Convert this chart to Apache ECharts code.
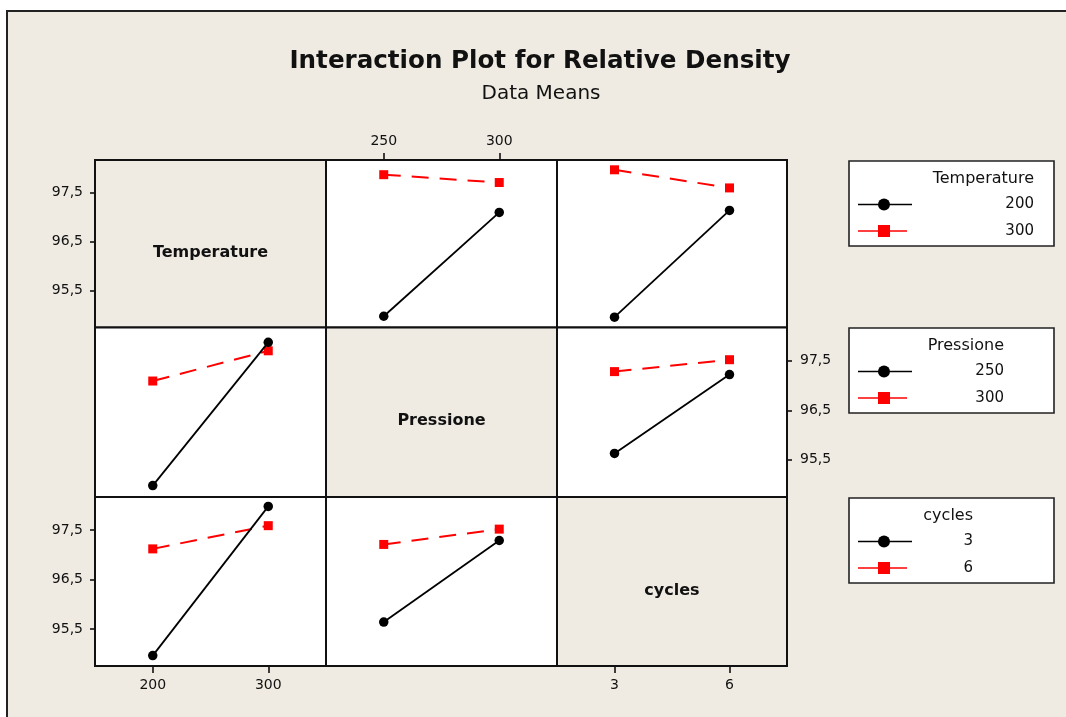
<!DOCTYPE html>
<html>
<head>
<meta charset="utf-8">
<script src="https://cdn.jsdelivr.net/npm/echarts@6/dist/echarts.min.js"></script>
<style>html,body{margin:0;padding:0;background:#fff}#c{width:1066px;height:717px}</style>
</head>
<body>
<div id="c"></div>
<script>
// ---- data ----
const factorNames = ['Temperature', 'Pressione', 'cycles'];
const tempLevels = [200, 300];
const pressLevels = [250, 300];
const cycleLevels = [3, 6];
const yTicks = [95.5, 96.5, 97.5];
// Temperature trace vs Pressione (x = 250, 300)
const tpT200 = [94.98, 97.10];
const tpT300 = [97.87, 97.71];
// Temperature trace vs cycles (x = 3, 6)
const tcT200 = [94.96, 97.14];
const tcT300 = [97.97, 97.60];
// Pressione trace vs Temperature (x = 200, 300)
const ptP250 = [94.98, 97.87];
const ptP300 = [97.09, 97.70];
// Pressione trace vs cycles (x = 3, 6)
const pcP250 = [95.63, 97.22];
const pcP300 = [97.28, 97.52];
// cycles trace vs Temperature (x = 200, 300)
const ctC3 = [94.96, 97.98];
const ctC6 = [97.12, 97.59];
// cycles trace vs Pressione (x = 250, 300)
const cpC3 = [95.64, 97.29];
const cpC6 = [97.21, 97.52];

// ---- layout ----
const BEIGE = '#EFEBE2';
const FONT = 'DejaVu Sans';
const colLeft = [95, 326, 557], colW = [231, 231, 230];
const rowTop = [160, 327.5, 497], rowH = [167.5, 169.5, 169];
const xRange = [[150, 350], [225, 325], [1.5, 7.5]];
const xLevels = [tempLevels, pressLevels, cycleLevels];
const yMin = 94.75, yMax = 98.17;
const fmt = v => Number(v).toFixed(1).replace('.', ',');

const grid = [], xAxis = [], yAxis = [], series = [];
for (let r = 0; r < 3; r++) {
  for (let c = 0; c < 3; c++) {
    const gi = r * 3 + c;
    grid.push({left: colLeft[c], top: rowTop[r], width: colW[c], height: rowH[r], show: true,
      backgroundColor: r === c ? BEIGE : '#ffffff', borderColor: '#111', borderWidth: 2});
    const showX = (r === 0 && c === 1) || (r === 2 && c === 0) || (r === 2 && c === 2);
    const showY = (c === 0 && (r === 0 || r === 2)) || (r === 1 && c === 2);
    xAxis.push({type: 'value', gridIndex: gi, min: xRange[c][0], max: xRange[c][1],
      position: r === 0 ? 'top' : 'bottom',
      axisLine: {show: false}, splitLine: {show: false},
      axisTick: {show: showX, length: 7, customValues: xLevels[c], lineStyle: {color: '#111', width: 1.6}},
      axisLabel: {show: showX, customValues: xLevels[c], margin: 12, color: '#111', fontSize: 14, fontFamily: FONT}});
    yAxis.push({type: 'value', gridIndex: gi, min: yMin, max: yMax,
      position: c === 2 ? 'right' : 'left',
      axisLine: {show: false}, splitLine: {show: false},
      axisTick: {show: showY, length: 5, customValues: yTicks, lineStyle: {color: '#111', width: 1.6}},
      axisLabel: {show: showY, customValues: yTicks, formatter: fmt, margin: c === 2 ? 13 : 12, color: '#111', fontSize: 14, fontFamily: FONT}});
  }
}

function addPair(r, c, blackVals, redVals, names) {
  const gi = r * 3 + c;
  const xs = xLevels[c];
  series.push({type: 'line', name: names[1], xAxisIndex: gi, yAxisIndex: gi,
    data: xs.map((x, i) => [x, redVals[i]]), symbol: 'rect', symbolSize: 9,
    itemStyle: {color: '#ff0000'}, lineStyle: {color: '#ff0000', width: 2, type: [17, 11]}, z: 2});
  series.push({type: 'line', name: names[0], xAxisIndex: gi, yAxisIndex: gi,
    data: xs.map((x, i) => [x, blackVals[i]]), symbol: 'circle', symbolSize: 9.5,
    itemStyle: {color: '#000000'}, lineStyle: {color: '#000000', width: 1.8}, z: 3});
}
addPair(0, 1, tpT200, tpT300, tempLevels.map(String));
addPair(0, 2, tcT200, tcT300, tempLevels.map(String));
addPair(1, 0, ptP250, ptP300, pressLevels.map(String));
addPair(1, 2, pcP250, pcP300, pressLevels.map(String));
addPair(2, 0, ctC3, ctC6, cycleLevels.map(String));
addPair(2, 1, cpC3, cpC6, cycleLevels.map(String));

// ---- decorations ----
const graphic = [
  {type: 'rect', shape: {x: 0, y: 0, width: 1066, height: 10}, style: {fill: '#ffffff'}, silent: true},
  {type: 'rect', shape: {x: 0, y: 0, width: 6, height: 717}, style: {fill: '#ffffff'}, silent: true},
  {type: 'polyline', shape: {points: [[7, 717], [7, 11], [1066, 11]]}, style: {stroke: '#222', lineWidth: 2, fill: null}, silent: true},
  {type: 'text', x: 540, y: 62, style: {text: 'Interaction Plot for Relative Density', font: 'bold 24.6px ' + FONT, fill: '#111', align: 'center', verticalAlign: 'middle'}},
  {type: 'text', x: 541, y: 94, style: {text: 'Data Means', font: '20px ' + FONT, fill: '#111', align: 'center', verticalAlign: 'middle'}}
];
for (let i = 0; i < 3; i++) {
  graphic.push({type: 'text', x: colLeft[i] + colW[i] / 2, y: rowTop[i] + rowH[i] / 2 + 9,
    style: {text: factorNames[i], font: 'bold 16px ' + FONT, fill: '#111', align: 'center', verticalAlign: 'middle'}});
}
const legTop = [161, 328, 498];
const legRight = [1034, 1004, 973];
const legLevels = [tempLevels, pressLevels, cycleLevels];
for (let i = 0; i < 3; i++) {
  const y0 = legTop[i];
  graphic.push({type: 'rect', shape: {x: 849, y: y0, width: 205, height: 85}, style: {fill: '#ffffff', stroke: '#222', lineWidth: 1.6}});
  graphic.push({type: 'text', x: legRight[i], y: y0 + 18, style: {text: factorNames[i], font: '16px ' + FONT, fill: '#111', align: 'right', verticalAlign: 'middle'}});
  const yb = y0 + 43.5, yr = y0 + 70;
  graphic.push({type: 'line', shape: {x1: 858, y1: yb, x2: 912, y2: yb}, style: {stroke: '#000', lineWidth: 1.6}});
  graphic.push({type: 'circle', shape: {cx: 884, cy: yb, r: 6}, style: {fill: '#000'}});
  graphic.push({type: 'line', shape: {x1: 858, y1: yr, x2: 907, y2: yr}, style: {stroke: '#ff0000', lineWidth: 1.6}});
  graphic.push({type: 'rect', shape: {x: 878, y: yr - 6, width: 12, height: 12}, style: {fill: '#ff0000'}});
  graphic.push({type: 'text', x: legRight[i], y: yb, style: {text: String(legLevels[i][0]), font: '15px ' + FONT, fill: '#111', align: 'right', verticalAlign: 'middle'}});
  graphic.push({type: 'text', x: legRight[i], y: yr, style: {text: String(legLevels[i][1]), font: '15px ' + FONT, fill: '#111', align: 'right', verticalAlign: 'middle'}});
}

const chart = echarts.init(document.getElementById('c'), null, {renderer: 'canvas'});
chart.setOption({
  backgroundColor: BEIGE,
  animation: false,
  grid, xAxis, yAxis, series, graphic
});
</script>
</body>
</html>
